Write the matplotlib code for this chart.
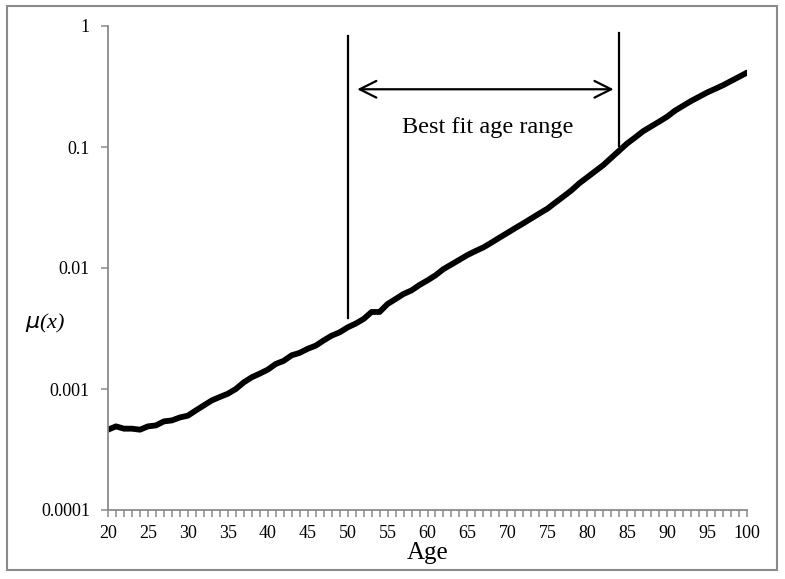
import matplotlib
matplotlib.use("Agg")
import matplotlib.pyplot as plt
from matplotlib.patches import Rectangle
from matplotlib.ticker import FixedLocator, NullFormatter, NullLocator

plt.rcParams['font.family'] = ['Liberation Serif', 'DejaVu Serif']

# mortality rate mu(x) by age
ages = list(range(20, 101))
mu = [
    4.61e-4, 4.91e-4, 4.70e-4, 4.70e-4, 4.61e-4, 4.91e-4, 5.00e-4, 5.40e-4, 5.50e-4, 5.82e-4,
    6.02e-4, 6.65e-4, 7.32e-4, 8.05e-4, 8.59e-4, 9.14e-4, 1.00e-3, 1.135e-3, 1.25e-3, 1.34e-3,
    1.445e-3, 1.61e-3, 1.71e-3, 1.90e-3, 1.99e-3, 2.15e-3, 2.28e-3, 2.52e-3, 2.76e-3, 2.94e-3,
    3.23e-3, 3.47e-3, 3.79e-3, 4.33e-3, 4.33e-3, 5.04e-3, 5.54e-3, 6.10e-3, 6.53e-3, 7.24e-3,
    7.90e-3, 8.70e-3, 9.80e-3, 1.07e-2, 1.17e-2, 1.28e-2, 1.38e-2, 1.48e-2, 1.62e-2, 1.78e-2,
    1.95e-2, 2.14e-2, 2.34e-2, 2.57e-2, 2.82e-2, 3.09e-2, 3.47e-2, 3.89e-2, 4.37e-2, 5.01e-2,
    5.62e-2, 6.31e-2, 7.08e-2, 8.13e-2, 9.33e-2, 0.107, 0.120, 0.135, 0.148, 0.162,
    0.178, 0.200, 0.219, 0.240, 0.260, 0.282, 0.302, 0.324, 0.351, 0.380, 0.412,
]

range_start = 50
range_end = 84
x_ticks = list(range(20, 101, 5))
y_ticks = [0.0001, 0.001, 0.01, 0.1, 1]
y_labels = ['0.0001', '0.001', '0.01', '0.1', '1']

fig = plt.figure(figsize=(7.85, 5.79), dpi=100)
ax = fig.add_axes([108 / 785, 1 - 510 / 579, 639 / 785, 484 / 579])

ax.plot(ages, mu, color='black', lw=4.2, solid_capstyle='round', solid_joinstyle='round')

# best fit range markers
ax.plot([range_start, range_start], [0.00386, 0.82], color='black', lw=1.6)
ax.plot([range_end, range_end], [0.1026, 0.87], color='black', lw=1.6)
ax.annotate('', xy=(51.2, 0.30), xytext=(83.3, 0.30),
            arrowprops=dict(arrowstyle='<->', color='black', lw=1.6,
                            mutation_scale=30, shrinkA=0, shrinkB=0))
ax.text(67.5, 0.145, 'Best fit age range', ha='center', va='center', fontsize=17.5)

ax.set_yscale('log')
ax.set_ylim(0.0001, 1)
ax.set_xlim(20, 100)

gray = '#8a8a8a'
for s in ['top', 'right']:
    ax.spines[s].set_visible(False)
for s in ['left', 'bottom']:
    ax.spines[s].set_color(gray)
    ax.spines[s].set_linewidth(1.3)

ax.xaxis.set_major_locator(FixedLocator(x_ticks))
ax.xaxis.set_minor_locator(FixedLocator(ages))
ax.xaxis.set_minor_formatter(NullFormatter())
ax.set_xticklabels([str(t) for t in x_ticks])
ax.yaxis.set_major_locator(FixedLocator(y_ticks))
ax.yaxis.set_minor_locator(NullLocator())
ax.set_yticklabels(y_labels)

ax.tick_params(axis='x', which='both', direction='out', length=5, width=1.1, color=gray,
               labelsize=13, pad=6)
ax.tick_params(axis='y', which='major', direction='out', length=5, width=1.1, color=gray,
               labelsize=13, pad=8)

ax.set_xlabel('Age', fontsize=18, labelpad=0)
fig.text(45 / 785, 1 - 323 / 579, r'$\mu$(x)', fontsize=16, style='italic',
         ha='center', va='center')

fig.patches.append(Rectangle((7 / 785, 1 - 570 / 579), 770 / 785, 564 / 579,
                             transform=fig.transFigure, fill=False,
                             edgecolor=gray, lw=1.5))

fig.savefig('out.png', dpi=100)
